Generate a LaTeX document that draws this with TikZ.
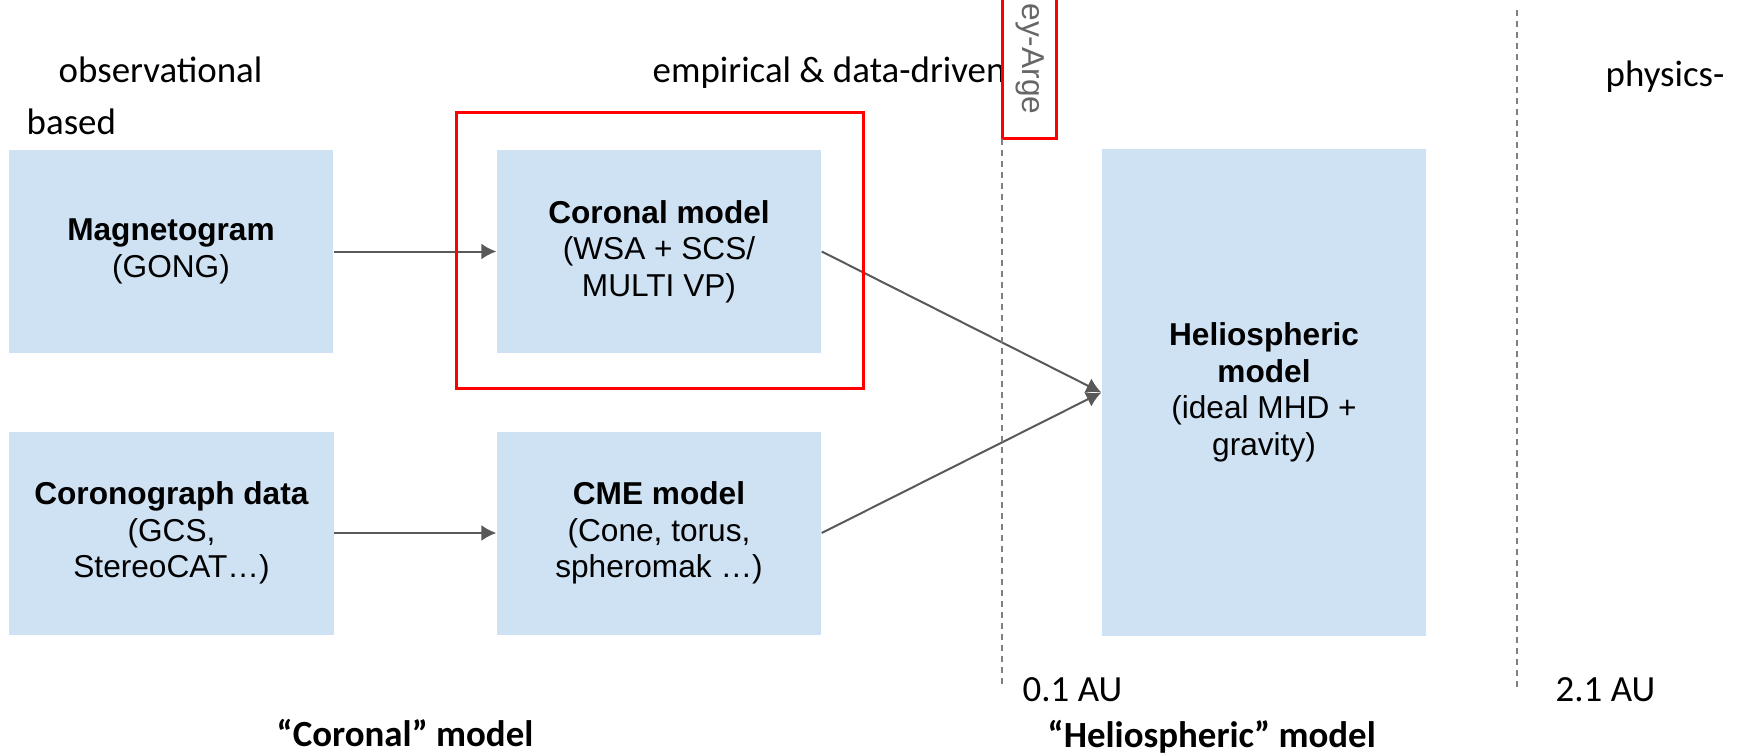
\documentclass[tikz,border=0pt]{standalone}
\usepackage{fontspec}
\setmainfont{Carlito}
\newfontfamily\boxfont{Liberation Sans}
\usetikzlibrary{arrows.meta}
\definecolor{boxblue}{HTML}{CFE2F3}
\definecolor{arrowgray}{HTML}{595959}
\definecolor{divgray}{HTML}{808080}
\definecolor{notegray}{HTML}{666666}

\begin{document}
\begin{tikzpicture}[>={Latex[length=1.5mm,width=1.6mm]},
  model/.style={fill=boxblue, minimum width=3.24cm, minimum height=2.03cm, inner sep=0pt,
    align=center, font=\boxfont\fontsize{9}{10.4}\selectfont},
  flow/.style={->, arrowgray, line width=0.2mm},
  divider/.style={divgray, line width=0.15mm, dash pattern=on 0.6mm off 0.5mm},
  toplabel/.style={anchor=base west, inner sep=0pt, font=\fontsize{10.5}{12.6}\selectfont}]
  \useasboundingbox (0,0) rectangle (17.39,7.53);

  % Category labels
  \node[toplabel] (obs) at (0.58,6.70) {observational};
  \node[toplabel] (based) at (0.26,6.18) {based};
  \node[toplabel] (emp) at (6.52,6.70) {empirical \& data-driven};
  \node[toplabel] (phys) at (16.05,6.66) {physics-};

  % Model boxes
  \node[model] (mag) at (1.71,5.015) {\textbf{Magnetogram}\\(GONG)};
  \node[model] (coro) at (1.715,2.20) {\textbf{Coronograph data}\\(GCS,\\StereoCAT…)};
  \node[model] (cor) at (6.59,5.015) {\textbf{Coronal model}\\(WSA + SCS/\\MULTI VP)};
  \node[model] (cme) at (6.59,2.20) {\textbf{CME model}\\(Cone, torus,\\spheromak …)};
  \node[model, minimum height=4.87cm] (helio) at (12.64,3.605)
    {\textbf{Heliospheric}\\\textbf{model}\\(ideal MHD +\\gravity)};

  % Connections
  \draw[flow] (mag) -- (cor);
  \draw[flow] (coro) -- (cme);
  \draw[flow] (cor.east) -- (helio.west);
  \draw[flow] (cme.east) -- (helio.west);

  % Highlights
  \draw[red, line width=0.3mm] (4.56,3.65) rectangle (8.63,6.40);
  \draw[red, line width=0.3mm] (10.027,6.14) rectangle (10.56,7.70);
  \node[rotate=-90, anchor=east, inner sep=0pt, notegray, font=\boxfont\fontsize{9}{10.8}\selectfont]
    (cut) at (10.30,6.38) {ey-Arge};

  % Distance markers
  \coordinate (d1top) at (10.02,6.14);
  \coordinate (d1bot) at (10.02,0.65);
  \coordinate (d2top) at (15.17,7.43);
  \coordinate (d2bot) at (15.17,0.65);
  \draw[divider] (d1top) -- (d1bot);
  \draw[divider] (d2top) -- (d2bot);
  \node[toplabel] (au1) at (10.22,0.52) {0.1 AU};
  \node[toplabel] (au2) at (15.55,0.52) {2.1 AU};

  % Bottom captions
  \node[toplabel, font=\bfseries\fontsize{10.5}{12.6}\selectfont] (capc) at (2.76,0.07) {“Coronal” model};
  \node[toplabel, font=\bfseries\fontsize{10.5}{12.6}\selectfont] (caph) at (10.47,0.06) {“Heliospheric” model};
\end{tikzpicture}
\end{document}
